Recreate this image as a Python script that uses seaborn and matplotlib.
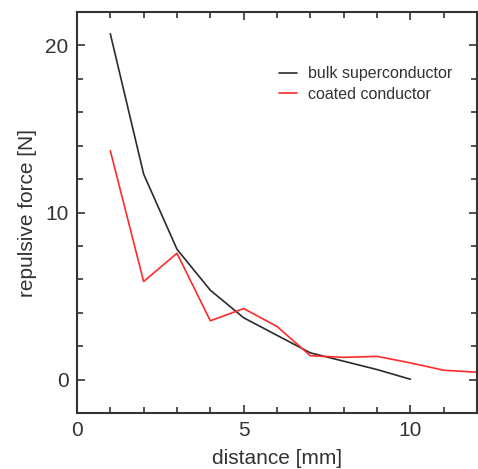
import pandas as pd
import matplotlib
matplotlib.use("Agg")
import matplotlib.pyplot as plt
import seaborn as sns
from matplotlib.ticker import MultipleLocator

# values
distance_bulk = [1, 2, 3, 4, 5, 6, 7, 8, 9, 10]
force_bulk = [20.7, 12.3, 7.8, 5.35, 3.7, 2.65, 1.6, 1.1, 0.6, 0.02]

distance_coated = [1, 2, 3, 4, 5, 6, 7, 8, 9, 10, 11, 12]
force_coated = [13.7, 5.87, 7.56, 3.52, 4.25, 3.18, 1.43, 1.33, 1.39, 1.0, 0.56, 0.44]

series_names = ["bulk superconductor", "coated conductor"]
series_colors = ["#2b2b2b", "#ff2a2a"]

df = pd.concat([
    pd.DataFrame({"distance": distance_bulk, "force": force_bulk, "series": series_names[0]}),
    pd.DataFrame({"distance": distance_coated, "force": force_coated, "series": series_names[1]}),
])

sns.set_style("ticks")
plt.rcParams["font.family"] = ["Liberation Sans", "DejaVu Sans"]
text_color = "#333333"

fig = plt.figure(figsize=(4.78, 4.69), dpi=100)
ax = fig.add_axes([0.161, 0.1194, 0.837, 0.855])

sns.lineplot(data=df, x="distance", y="force", hue="series", hue_order=series_names,
             palette=series_colors, linewidth=1.2, ax=ax, sort=False)

ax.set_xlim(0, 12)
ax.set_ylim(-2, 22)
ax.xaxis.set_major_locator(MultipleLocator(5))
ax.xaxis.set_minor_locator(MultipleLocator(1))
ax.yaxis.set_major_locator(MultipleLocator(10))
ax.yaxis.set_minor_locator(MultipleLocator(2))

ax.tick_params(which="both", direction="in", top=True, right=True,
               color=text_color, width=1.2, labelsize=15, labelcolor=text_color, pad=6)
ax.tick_params(which="major", length=6)
ax.tick_params(which="minor", length=4)
for spine in ax.spines.values():
    spine.set_linewidth(1.5)
    spine.set_color(text_color)

ax.set_xlabel("distance [mm]", fontsize=15, color=text_color, labelpad=6)
ax.set_ylabel("repulsive force [N]", fontsize=15, color=text_color, labelpad=6)

leg = ax.legend(loc="upper left", bbox_to_anchor=(0.47, 0.90), frameon=False,
                fontsize=11.5, handlelength=1.1, handletextpad=0.7, labelspacing=0.35)
for t in leg.get_texts():
    t.set_color(text_color)

fig.savefig("out.png", dpi=100)
